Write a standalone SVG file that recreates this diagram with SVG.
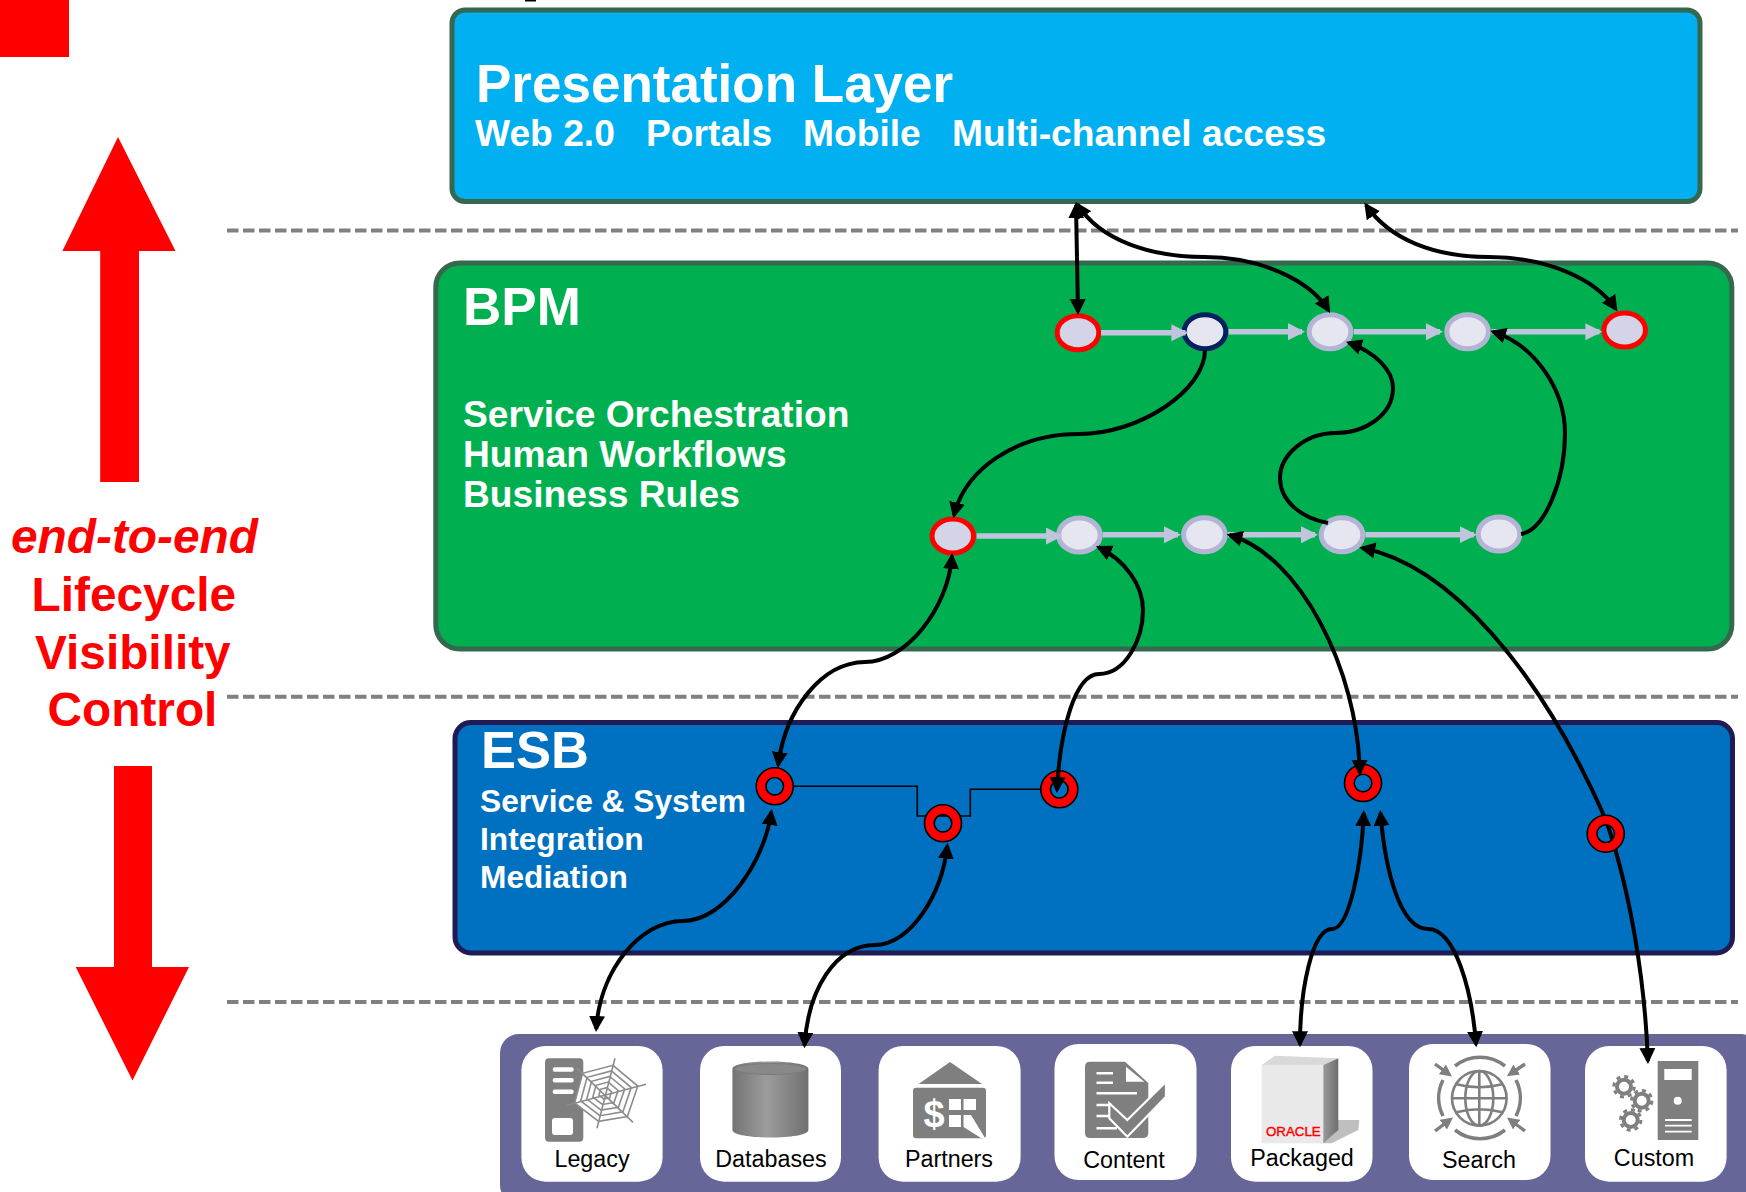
<svg xmlns="http://www.w3.org/2000/svg" width="1746" height="1192" viewBox="0 0 1746 1192">
<style>
text{font-family:"Liberation Sans",Arial,sans-serif}
.w{fill:#fff;font-weight:bold}
.r{fill:#f00;font-weight:bold;font-size:47.8px}
.layer{stroke-width:5}
.dash{stroke:#808080;stroke-width:4;stroke-dasharray:11.5 4.5;fill:none}
.ep{stroke-width:5}
.er{stroke:#f00;fill:#d3d4e6}
.eb{stroke:#b4b5d5;fill:#e6e6f0}
.en{stroke:#002060;fill:#e6e6f0}
.flow{stroke:#c0c4dc;stroke-width:5.5;fill:none;marker-end:url(#ga)}
.c{stroke:#000;stroke-width:4;fill:none}
.b{marker-start:url(#ba);marker-end:url(#ba)}
.e{marker-end:url(#ba)}
.ring{fill:#f00;fill-rule:evenodd;stroke:#000;stroke-width:1.6}
.card{fill:#fff}
.lbl{font-size:23.3px;fill:#000;text-anchor:middle}
.g{fill:#7f7f7f}
.wl{stroke:#fff;fill:none;stroke-width:2.5}
.web{fill:none;stroke:#8c8c8c;stroke-width:1.6;vector-effect:non-scaling-stroke}
.gl{fill:none;stroke:#7f7f7f;stroke-width:2.6}
.gb{fill:none;stroke:#7f7f7f;stroke-width:3.6}
.ga{stroke:#7f7f7f;stroke-width:3.4;fill:none;marker-end:url(#sa)}
</style>
<defs>
<marker id="ba" markerUnits="userSpaceOnUse" markerWidth="18" markerHeight="17" refX="13" refY="8" orient="auto-start-reverse"><path d="M0,0L16,8L0,16z" fill="#000"/></marker>
<marker id="ga" markerUnits="userSpaceOnUse" markerWidth="18" markerHeight="18" refX="14" refY="8.500" orient="auto"><path d="M0,0L17,8.500L0,17z" fill="#c0c4dc"/></marker>
<marker id="sa" markerUnits="userSpaceOnUse" markerWidth="13" markerHeight="13" refX="7" refY="6" orient="auto"><path d="M0,0L12,6L0,12z" fill="#7f7f7f"/></marker>
<linearGradient id="cyl" x1="0" x2="1" y1="0" y2="0"><stop offset="0" stop-color="#737373"/><stop offset=".45" stop-color="#9c9c9c"/><stop offset="1" stop-color="#707070"/></linearGradient>
<linearGradient id="side" x1="0" x2="1" y1="0" y2="0"><stop offset="0" stop-color="#9a9a9a"/><stop offset="1" stop-color="#6e6e6e"/></linearGradient>
<polygon id="w6" class="web" points="10,-35 41,-9 28,29 -8,35 -38,12 -28,-25"/>
<g id="gear"><circle r="7" fill="none" stroke="#7f7f7f" stroke-width="4"/><circle r="10.200" fill="none" stroke="#7f7f7f" stroke-width="3" stroke-dasharray="4 4"/></g>
<path id="ringp" d="M-18.500,0a18.500,18.500 0 1,0 37,0a18.500,18.500 0 1,0 -37,0zM-8.800,0a8.800,8.800 0 1,0 17.600,0a8.800,8.800 0 1,0 -17.600,0z"/>
</defs>
<rect width="1746" height="1192" fill="#fff"/>
<rect id="red-square" x="0" y="0" width="69" height="57" fill="#f00"/>
<rect x="525" y="0" width="11" height="1.500" fill="#000"/>

<g id="presentation"><rect class="layer" x="452" y="10" width="1248" height="191.500" rx="13" fill="#00b0f0" stroke="#35684f"/>
<text class="w" x="476" y="102" font-size="53">Presentation Layer</text>
<text class="w" x="475" y="146" font-size="37.200">Web 2.0</text><text class="w" x="646" y="146" font-size="37.200">Portals</text><text class="w" x="803" y="146" font-size="37.200">Mobile</text><text class="w" x="952" y="146" font-size="37.200">Multi-channel access</text></g>

<g id="bpm"><rect class="layer" x="435.800" y="263" width="1296" height="386" rx="24" fill="#00b050" stroke="#35684f"/>
<text class="w" x="463" y="325" font-size="53">BPM</text>
<text class="w" x="463" y="426.500" font-size="37.200">Service Orchestration</text>
<text class="w" x="463" y="466.500" font-size="37.200">Human Workflows</text>
<text class="w" x="463" y="506.500" font-size="37.200">Business Rules</text></g>

<g id="esb"><rect class="layer" x="455" y="722.500" width="1277.500" height="230.500" rx="16" fill="#0070c0" stroke="#201a55"/>
<text class="w" x="481" y="768" font-size="52.500">ESB</text>
<text class="w" x="480" y="811.500" font-size="31.700">Service &amp; System</text>
<text class="w" x="480" y="850" font-size="31.700">Integration</text>
<text class="w" x="480" y="887.500" font-size="31.700">Mediation</text></g>

<path class="dash" d="M227,230.500H1738M227,696.800H1738M227,1002H1738"/>

<g id="lifecycle">
<path id="arrow-up" d="M118,137L175.500,251H139V482H100.200V251H62.400z" fill="#f00"/>
<path id="arrow-down" d="M114,766H152V967H189L132.500,1080.500L75.700,967H114z" fill="#f00"/>
<text class="r" x="11" y="553" font-style="italic" font-size="47.400">end-to-end</text>
<text class="r" x="31.500" y="611">Lifecycle</text>
<text class="r" x="35" y="669">Visibility</text>
<text class="r" x="47.500" y="726">Control</text>
</g>

<g id="sources">
<rect x="500" y="1034" width="1260" height="170" rx="19" fill="#666699"/>
<g id="legacy"><rect class="card" x="521.400" y="1046" width="141.200" height="135.700" rx="24"/>
<rect class="g" x="545" y="1058.300" width="38.300" height="83.400" rx="4"/>
<g fill="#fff"><rect x="552.700" y="1067.300" width="21" height="4.500" rx="2"/><rect x="552.700" y="1078" width="21" height="4.500" rx="2"/><rect x="552.700" y="1089.500" width="21" height="4.500" rx="2"/><rect x="552" y="1118" width="21" height="17" rx="3"/></g>
<g transform="translate(605,1093.300)"><polygon points="8,-28 33,-7 22,23 -6,28 -30,10 -22,-20" fill="#fff"/>
<path class="web" d="M10,-35L-8,35M41,-9L-38,12M28,29L-28,-25"/>
<use href="#w6" transform="scale(.8)"/><use href="#w6" transform="scale(.64)"/><use href="#w6" transform="scale(.48)"/><use href="#w6" transform="scale(.32)"/><use href="#w6" transform="scale(.16)"/></g>
<text class="lbl" x="592" y="1166.500">Legacy</text></g>

<g id="databases"><rect class="card" x="700" y="1046" width="141" height="135.700" rx="24"/>
<path d="M732.400,1069C732.400,1059 808.400,1059 808.400,1069V1130C808.400,1140 732.400,1140 732.400,1130z" fill="url(#cyl)"/>
<ellipse cx="770.400" cy="1069" rx="36" ry="5.500" fill="#888" stroke="#7a7a7a"/>
<text class="lbl" x="771" y="1166.500">Databases</text></g>

<g id="partners"><rect class="card" x="878.600" y="1046" width="142" height="135.700" rx="24"/>
<path class="g" d="M950,1062L982,1084H918.600z"/>
<rect class="g" x="913" y="1087.700" width="73" height="50.500" rx="3"/>
<text x="934" y="1127" font-size="38" font-weight="bold" fill="#fff" text-anchor="middle">$</text>
<g fill="#fff"><rect x="949" y="1099" width="12" height="11"/><rect x="963.500" y="1099" width="12.500" height="11"/><rect x="949" y="1115" width="12" height="12"/><path d="M963.500,1115H971L985,1138H981L963.500,1127z"/></g>
<text class="lbl" x="949" y="1166.500">Partners</text></g>

<g id="content"><rect class="card" x="1054.500" y="1044" width="142" height="136" rx="24"/>
<path class="g" d="M1090,1061.700H1125L1148.300,1083V1133Q1148.300,1138 1143,1138H1090Q1085,1138 1085,1133V1067Q1085,1061.700 1090,1061.700z"/>
<path d="M1126,1066.700V1081.700H1144.300z" fill="#fff"/>
<path class="wl" d="M1096.500,1073.300H1113M1096.500,1082.700H1113M1096.500,1093.300H1137M1096.500,1105H1112M1096.500,1116H1112M1096.500,1128.300H1117"/>
<path d="M1109.300,1103.300L1127.300,1120L1166,1081.700V1096.700L1127.300,1136.700L1109.300,1118.300z" fill="#7f7f7f" stroke="#fff" stroke-width="2.200"/>
<text class="lbl" x="1124" y="1167.500">Content</text></g>

<g id="packaged"><rect class="card" x="1231" y="1046" width="141.500" height="135.700" rx="24"/>
<path d="M1338.300,1120H1359.300L1358.300,1130L1331.700,1143.300H1320z" fill="#bfbfbf"/>
<path d="M1261.700,1065L1275,1055.700L1338.300,1058.300L1323.300,1065z" fill="#d9d9d9"/>
<rect x="1261.700" y="1065" width="61.600" height="78.300" fill="#e9e9e9"/>
<path d="M1323.300,1065L1338.300,1058.300V1130L1323.300,1143.300z" fill="url(#side)"/>
<text x="1266" y="1136" font-size="13" fill="#f00" stroke="#f00" stroke-width=".4" textLength="54.700" lengthAdjust="spacingAndGlyphs">ORACLE</text>
<text class="lbl" x="1302" y="1166">Packaged</text></g>

<g id="search"><rect class="card" x="1409" y="1044" width="141.500" height="136" rx="24"/>
<g class="gl" transform="translate(1479.300,1098.300)"><circle r="27.300"/><ellipse rx="14" ry="27.300"/><path d="M0,-27.300V27.300M-27.300,0H27.300M-23,-14Q0,-8 23,-14M-23,14Q0,8 23,14"/></g>
<path class="gb" d="M1455,1066A40,40 0 0,1 1505,1066M1455,1130A40,40 0 0,0 1505,1130M1443,1080A40,40 0 0,0 1443,1116M1516,1080A40,40 0 0,1 1516,1116"/>
<path class="ga" d="M1435,1064L1448,1073.500"/><path class="ga" d="M1525,1064L1511,1073.500"/><path class="ga" d="M1435,1131L1449,1120.500"/><path class="ga" d="M1525,1131L1511,1120.500"/>
<text class="lbl" x="1479" y="1167.500">Search</text></g>

<g id="custom"><rect class="card" x="1585" y="1046" width="141.600" height="135.700" rx="24"/>
<rect class="g" x="1657.700" y="1061" width="40.600" height="79"/>
<rect x="1664.300" y="1069" width="27.400" height="11" fill="#fff"/><circle cx="1677.700" cy="1100.700" r="4" fill="#fff"/>
<path class="wl" style="stroke-width:1.800" d="M1665,1120H1691.700M1665,1125.700H1691.700M1665,1131.700H1691.700"/>
<use href="#gear" x="1624" y="1086.700"/><use href="#gear" x="1641.700" y="1100.700"/><use href="#gear" x="1630.700" y="1120"/>
<text class="lbl" x="1654" y="1166">Custom</text></g>
</g>

<g id="bpm-nodes">
<ellipse id="n1" class="ep er" cx="1078" cy="332.700" rx="20.800" ry="17"/>
<ellipse id="n2" class="ep en" cx="1205" cy="331.700" rx="20.800" ry="17"/>
<ellipse id="n3" class="ep eb" cx="1330" cy="331.700" rx="20.800" ry="17"/>
<ellipse id="n4" class="ep eb" cx="1467.600" cy="331.700" rx="20.800" ry="17"/>
<ellipse id="n5" class="ep er" cx="1624.700" cy="330" rx="20.800" ry="17"/>
<ellipse id="n6" class="ep er" cx="952.800" cy="536" rx="20.800" ry="17"/>
<ellipse id="n7" class="ep eb" cx="1079.400" cy="535" rx="20.800" ry="17"/>
<ellipse id="n8" class="ep eb" cx="1204.400" cy="534.700" rx="20.800" ry="17"/>
<ellipse id="n9" class="ep eb" cx="1342" cy="534.700" rx="20.800" ry="17"/>
<ellipse id="n10" class="ep eb" cx="1499" cy="534" rx="20.800" ry="17"/>
</g>

<g id="flows">
<path class="flow" d="M1101,332.700H1185.400"/>
<path class="flow" d="M1228.600,331.700H1302"/>
<path class="flow" d="M1353.700,331.700H1440"/>
<path class="flow" d="M1491.400,331.700H1599.400"/>
<path class="flow" d="M976.600,536H1059.900"/>
<path class="flow" d="M1102.600,534.700H1178"/>
<path class="flow" d="M1228,534.700H1315"/>
<path class="flow" d="M1365.300,534.700H1473.800"/>
</g>

<g id="esb-line"><path d="M794,786.300H917.300V816H970.300V789.300H1040" fill="none" stroke="#000" stroke-width="1.600"/></g>

<g id="connectors">
<path class="c b" d="M1076,205.300L1078,312"/>
<path class="c b" d="M1077.600,204.600C1100,240 1150,257 1205,257C1260,257 1310,280 1328.500,310.400"/>
<path class="c b" d="M1366,205C1390,240 1435,257 1489,257C1545,257 1595,278 1615.800,309"/>
<path class="c e" d="M1205,350C1205,390 1140,434 1079,434C1015,434 965,470 954,515.400"/>
<path class="c e" d="M1328,523C1300,518 1280,500 1280,478C1280,455 1305,433 1336,433C1365,433 1393,415 1393,388C1393,370 1375,352 1348.800,342.800"/>
<path class="c e" d="M1521,534C1545,530 1565,480 1565,433C1565,390 1535,345 1492.900,331.600"/>
<path class="c b" d="M952,556C948,610 905,662 865,662C822,662 785,710 778.200,765"/>
<path class="c b" d="M771.300,812C765,860 725,921 683,921C640,921 600,970 596.200,1029"/>
<path class="c b" d="M947.300,845.700C942,895 910,945 875,945C835,945 808,990 804.600,1045.300"/>
<path class="c b" d="M1362.200,548C1450,565 1540,670 1606,820C1630,890 1645,980 1647.900,1061"/>
</g>
<g id="esb-rings">
<use id="r1" href="#ringp" class="ring" x="774.700" y="786.300"/>
<use id="r2" href="#ringp" class="ring" x="943" y="823.300"/>
<use id="r3" href="#ringp" class="ring" x="1059.300" y="789.300"/>
<use id="r4" href="#ringp" class="ring" x="1363" y="783"/>
<use id="r5" href="#ringp" class="ring" x="1605.700" y="833.700"/>
</g>
<g id="connectors-over">
<path class="c b" d="M1057,790C1060,730 1075,674 1099,674C1125,674 1143,640 1143,610C1143,585 1125,560 1098.600,547.400"/>
<path class="c b" d="M1229.500,535C1300,555 1358,670 1359.800,773"/>
<path class="c b" d="M1363.700,813C1362,860 1350,929 1332,929C1312,929 1300,990 1300,1044.300"/>
<path class="c b" d="M1380.500,813C1385,870 1400,929 1428,929C1455,929 1472,990 1476,1044.300"/>
</g>
</svg>
